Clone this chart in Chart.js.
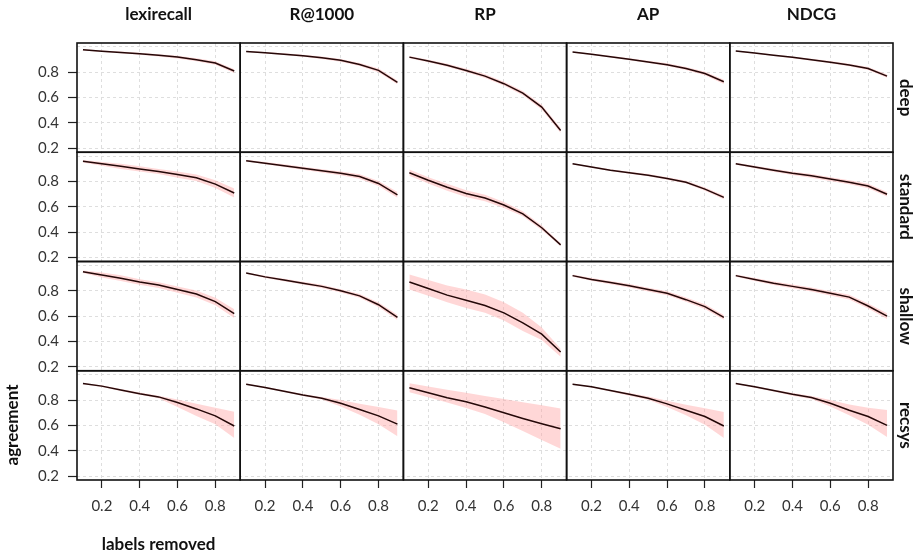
<!DOCTYPE html>
<html>
<head>
<meta charset="utf-8">
<script src="https://cdn.jsdelivr.net/npm/chart.js@4"></script>
<style>
  body { margin: 0; background: #fff; }
  canvas { display: block; }
</style>
</head>
<body>
<canvas id="grid" width="916" height="558"></canvas>
<script>
// proportion of labels removed (x) and facet names
const removed = [0.1, 0.2, 0.3, 0.4, 0.5, 0.6, 0.7, 0.8, 0.9];
const metrics = ['lexirecall', 'R@1000', 'RP', 'AP', 'NDCG'];
const conditions = ['deep', 'standard', 'shallow', 'recsys'];
const xTicks = [0.2, 0.4, 0.6, 0.8];
const yTicks = [0.2, 0.4, 0.6, 0.8, 1.0];

// one array per metric (lexirecall, R@1000, RP, AP, NDCG)
const deepMean = [
  [0.978, 0.967, 0.957, 0.946, 0.934, 0.92, 0.9, 0.874, 0.81],
  [0.965, 0.955, 0.943, 0.93, 0.915, 0.895, 0.862, 0.815, 0.72],
  [0.92, 0.89, 0.855, 0.815, 0.77, 0.71, 0.635, 0.525, 0.34],
  [0.96, 0.942, 0.923, 0.903, 0.882, 0.86, 0.83, 0.79, 0.725],
  [0.968, 0.952, 0.935, 0.918, 0.9, 0.88, 0.858, 0.83, 0.77]
];
const deepLow = [
  [0.973, 0.961, 0.95, 0.938, 0.925, 0.909, 0.888, 0.86, 0.795],
  [0.96, 0.949, 0.936, 0.922, 0.906, 0.884, 0.85, 0.8, 0.705],
  [0.912, 0.88, 0.843, 0.802, 0.756, 0.695, 0.618, 0.507, 0.32],
  [0.955, 0.936, 0.916, 0.895, 0.873, 0.849, 0.818, 0.776, 0.708],
  [0.964, 0.947, 0.929, 0.911, 0.892, 0.871, 0.848, 0.818, 0.757]
];
const deepHigh = [
  [0.983, 0.973, 0.964, 0.954, 0.943, 0.931, 0.912, 0.888, 0.825],
  [0.97, 0.961, 0.95, 0.938, 0.924, 0.906, 0.874, 0.83, 0.735],
  [0.928, 0.9, 0.867, 0.828, 0.784, 0.725, 0.652, 0.543, 0.36],
  [0.965, 0.948, 0.93, 0.911, 0.891, 0.871, 0.842, 0.804, 0.742],
  [0.972, 0.957, 0.941, 0.925, 0.908, 0.889, 0.868, 0.842, 0.783]
];

const standardMean = [
  [0.96, 0.94, 0.92, 0.9, 0.88, 0.855, 0.83, 0.78, 0.71],
  [0.965, 0.945, 0.925, 0.905, 0.885, 0.865, 0.84, 0.785, 0.695],
  [0.87, 0.81, 0.755, 0.705, 0.67, 0.615, 0.545, 0.435, 0.3],
  [0.94, 0.915, 0.89, 0.87, 0.85, 0.825, 0.795, 0.74, 0.675],
  [0.94, 0.915, 0.89, 0.865, 0.845, 0.82, 0.795, 0.765, 0.7]
];
const standardLow = [
  [0.95, 0.925, 0.9, 0.88, 0.86, 0.83, 0.805, 0.75, 0.675],
  [0.958, 0.936, 0.914, 0.893, 0.872, 0.85, 0.823, 0.765, 0.672],
  [0.845, 0.785, 0.728, 0.678, 0.645, 0.592, 0.525, 0.418, 0.288],
  [0.935, 0.909, 0.883, 0.862, 0.841, 0.815, 0.784, 0.727, 0.66],
  [0.932, 0.905, 0.878, 0.852, 0.831, 0.805, 0.779, 0.748, 0.682]
];
const standardHigh = [
  [0.97, 0.955, 0.94, 0.92, 0.9, 0.88, 0.855, 0.81, 0.745],
  [0.972, 0.954, 0.936, 0.917, 0.898, 0.88, 0.857, 0.805, 0.718],
  [0.895, 0.835, 0.782, 0.732, 0.695, 0.638, 0.565, 0.452, 0.312],
  [0.945, 0.921, 0.897, 0.878, 0.859, 0.835, 0.806, 0.753, 0.69],
  [0.948, 0.925, 0.902, 0.878, 0.859, 0.835, 0.811, 0.782, 0.718]
];

const shallowMean = [
  [0.95, 0.925, 0.9, 0.87, 0.845, 0.81, 0.775, 0.715, 0.62],
  [0.94, 0.91, 0.885, 0.86, 0.835, 0.8, 0.76, 0.69, 0.59],
  [0.869, 0.818, 0.766, 0.726, 0.684, 0.626, 0.547, 0.458, 0.316],
  [0.92, 0.89, 0.865, 0.84, 0.81, 0.78, 0.73, 0.675, 0.59],
  [0.92, 0.89, 0.86, 0.835, 0.81, 0.78, 0.75, 0.68, 0.6]
];
const shallowLow = [
  [0.94, 0.905, 0.878, 0.848, 0.822, 0.785, 0.748, 0.685, 0.585],
  [0.935, 0.902, 0.875, 0.849, 0.823, 0.787, 0.745, 0.673, 0.57],
  [0.81, 0.76, 0.71, 0.665, 0.626, 0.565, 0.482, 0.411, 0.279],
  [0.912, 0.879, 0.852, 0.826, 0.795, 0.764, 0.713, 0.657, 0.572],
  [0.912, 0.878, 0.846, 0.82, 0.794, 0.763, 0.731, 0.66, 0.578]
];
const shallowHigh = [
  [0.96, 0.945, 0.922, 0.892, 0.868, 0.835, 0.802, 0.745, 0.655],
  [0.945, 0.918, 0.895, 0.871, 0.847, 0.813, 0.775, 0.707, 0.61],
  [0.929, 0.885, 0.842, 0.81, 0.77, 0.71, 0.626, 0.51, 0.342],
  [0.928, 0.901, 0.878, 0.854, 0.825, 0.796, 0.747, 0.693, 0.608],
  [0.928, 0.902, 0.874, 0.85, 0.826, 0.797, 0.769, 0.7, 0.622]
];

const recsysMean = [
  [0.93, 0.91, 0.88, 0.85, 0.825, 0.78, 0.73, 0.675, 0.595],
  [0.925, 0.9, 0.87, 0.84, 0.815, 0.775, 0.725, 0.675, 0.61],
  [0.897, 0.858, 0.818, 0.787, 0.745, 0.7, 0.655, 0.613, 0.573],
  [0.925, 0.905, 0.875, 0.845, 0.815, 0.77, 0.72, 0.67, 0.595],
  [0.93, 0.905, 0.875, 0.845, 0.82, 0.775, 0.72, 0.67, 0.6]
];
const recsysLow = [
  [0.925, 0.904, 0.872, 0.842, 0.815, 0.745, 0.675, 0.608, 0.5],
  [0.92, 0.894, 0.863, 0.832, 0.805, 0.75, 0.683, 0.608, 0.515],
  [0.862, 0.822, 0.78, 0.738, 0.69, 0.625, 0.555, 0.485, 0.415],
  [0.92, 0.9, 0.868, 0.835, 0.802, 0.745, 0.68, 0.605, 0.5],
  [0.925, 0.898, 0.867, 0.835, 0.808, 0.75, 0.68, 0.605, 0.508]
];
const recsysHigh = [
  [0.935, 0.916, 0.888, 0.86, 0.835, 0.805, 0.77, 0.739, 0.707],
  [0.93, 0.906, 0.877, 0.848, 0.825, 0.8, 0.77, 0.745, 0.718],
  [0.932, 0.907, 0.882, 0.857, 0.832, 0.808, 0.783, 0.758, 0.734],
  [0.93, 0.91, 0.882, 0.855, 0.828, 0.795, 0.762, 0.735, 0.705],
  [0.935, 0.912, 0.883, 0.855, 0.832, 0.8, 0.765, 0.74, 0.721]
];

const rowData = [
  { mean: deepMean, low: deepLow, high: deepHigh },
  { mean: standardMean, low: standardLow, high: standardHigh },
  { mean: shallowMean, low: shallowLow, high: shallowHigh },
  { mean: recsysMean, low: recsysLow, high: recsysHigh }
];

const FONT = 'Lato';
const points = arr => removed.map((x, i) => ({ x: x, y: arr[i] }));

// build datasets: low edge, high edge filled down to it, then the mean line
const datasets = [];
rowData.forEach((row, r) => {
  metrics.forEach((m, c) => {
    const lowIdx = datasets.length;
    datasets.push({
      data: points(row.low[c]), xAxisID: 'x' + c, yAxisID: 'y' + r,
      borderWidth: 0, pointRadius: 0, fill: false, order: 1
    });
    datasets.push({
      data: points(row.high[c]), xAxisID: 'x' + c, yAxisID: 'y' + r,
      borderWidth: 0, pointRadius: 0, order: 1,
      fill: { target: lowIdx }, backgroundColor: 'rgba(255, 160, 160, 0.42)'
    });
    datasets.push({
      data: points(row.mean[c]), xAxisID: 'x' + c, yAxisID: 'y' + r,
      borderColor: '#240808', borderWidth: 1.5, pointRadius: 0, fill: false, order: 0
    });
  });
});

const scales = {};
metrics.forEach((m, c) => {
  scales['x' + c] = {
    type: 'linear', position: 'bottom', stack: 'cols',
    min: 0.0685, max: 0.9315,
    afterBuildTicks: s => { s.ticks = xTicks.map(v => ({ value: v })); },
    afterFit: s => { s.height = 78; },
    ticks: { font: { family: FONT, size: 15 }, color: '#333', padding: 9,
      autoSkip: false, maxRotation: 0, callback: v => v.toFixed(1) },
    grid: { color: '#dedede', lineWidth: 1, tickLength: 8, tickColor: '#222', tickWidth: 1.2 },
    border: { display: false, dash: [3, 3] }
  };
});
// left stacks are placed last-declared first, so declare bottom row first
for (let r = conditions.length - 1; r >= 0; r--) {
  scales['y' + r] = {
    type: 'linear', position: 'left', stack: 'rows',
    min: 0.1685, max: 1.0315,
    afterBuildTicks: s => { s.ticks = yTicks.map(v => ({ value: v })); },
    afterFit: s => { s.width = 77; },
    ticks: { font: { family: FONT, size: 15 }, color: '#333', padding: 9,
      autoSkip: false, callback: v => v > 0.95 ? '' : v.toFixed(1) },
    grid: { color: '#dedede', lineWidth: 1, tickLength: 9, tickWidth: 1.2,
      tickColor: ctx => (ctx.tick && ctx.tick.value > 0.95) ? 'rgba(0,0,0,0)' : '#222' },
    border: { display: false, dash: [3, 3] }
  };
}

// panel frames, strip labels and axis titles
const framePlugin = {
  id: 'frames',
  afterDatasetsDraw(chart) {
    const ctx = chart.ctx;
    ctx.save();
    ctx.strokeStyle = '#111';
    ctx.lineWidth = 1.6;
    metrics.forEach((m, c) => {
      const xs = chart.scales['x' + c];
      conditions.forEach((cond, r) => {
        const ys = chart.scales['y' + r];
        ctx.strokeRect(xs.left, ys.top, xs.right - xs.left, ys.bottom - ys.top);
      });
    });

    ctx.fillStyle = '#111';
    ctx.font = 'bold 17px ' + FONT;
    ctx.textAlign = 'center';
    ctx.textBaseline = 'middle';
    metrics.forEach((m, c) => {
      const xs = chart.scales['x' + c];
      ctx.fillText(m, (xs.left + xs.right) / 2, 15);
    });
    conditions.forEach((cond, r) => {
      const ys = chart.scales['y' + r];
      ctx.save();
      ctx.translate(905, (ys.top + ys.bottom) / 2);
      ctx.rotate(Math.PI / 2);
      ctx.fillText(cond, 0, 0);
      ctx.restore();
    });

    ctx.save();
    ctx.translate(13, 425);
    ctx.rotate(-Math.PI / 2);
    ctx.fillText('agreement', 0, 0);
    ctx.restore();
    const x0 = chart.scales.x0;
    ctx.fillText('labels removed', (x0.left + x0.right) / 2, 545);
    ctx.restore();
  }
};

new Chart(document.getElementById('grid'), {
  type: 'line',
  data: { datasets: datasets },
  options: {
    responsive: false,
    animation: false,
    devicePixelRatio: 1,
    layout: { padding: { top: 43, right: 23, left: 0, bottom: 0 } },
    plugins: { legend: { display: false }, tooltip: { enabled: false } },
    scales: scales
  },
  plugins: [framePlugin]
});
</script>
</body>
</html>
